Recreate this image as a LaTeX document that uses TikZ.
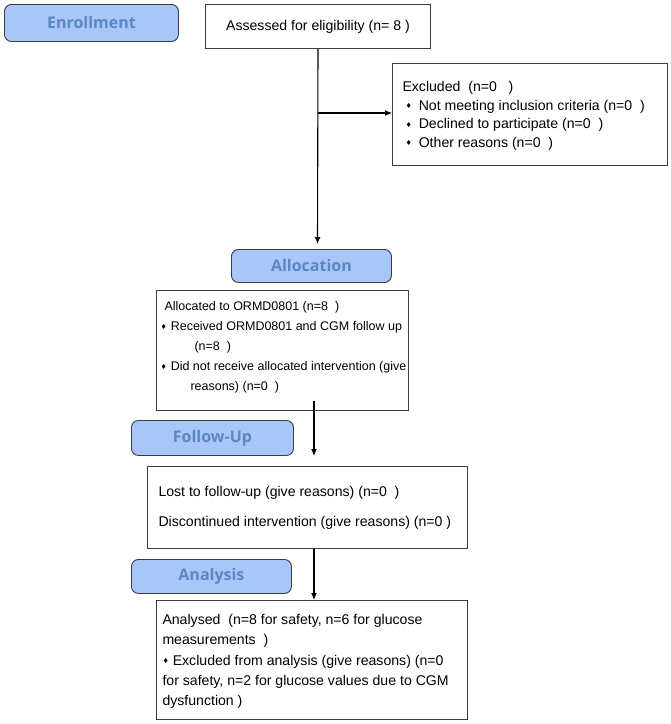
\documentclass[tikz,border=0pt]{standalone}
\usepackage{fontspec}
\setmainfont{Liberation Sans}
\newfontfamily\pillfont{Open Sans}
\newfontfamily\symfont{DejaVu Sans}
\usetikzlibrary{arrows.meta}
\definecolor{pillfill}{HTML}{A9C6F8}
\definecolor{pilltext}{HTML}{5B87C4}
\definecolor{edgegray}{HTML}{3C3C3C}
\newcommand{\dmd}{{\symfont\fontsize{7}{7}\selectfont\raisebox{1.5pt}{♦}}\hspace{4pt}}
\newcommand{\boxtext}[4]{\parbox[c][#2][t]{#1}{\rule{0pt}{#3}#4}}
\tikzset{
  pill/.style={draw=edgegray, fill=pillfill, rounded corners=7pt, line width=0.9pt,
    text=pilltext, inner sep=0pt, anchor=north west,
    font=\pillfont\bfseries\fontsize{16}{16}\selectfont},
  flowbox/.style={draw=edgegray, line width=1pt, inner ysep=0pt, anchor=north west,
    font=\fontsize{14.1}{18.6}\selectfont},
  flow/.style={->, >={Latex[length=7pt,width=6pt]}, line width=1.1pt},
}
\begin{document}
\begin{tikzpicture}[x=1pt,y=-1pt]
\useasboundingbox (0,0) rectangle (671,724);
\node[pill, minimum width=174pt, minimum height=37pt] (enroll) at (4,4) {Enrollment};
\node[flowbox, minimum width=225pt, minimum height=44pt] (assess) at (205,4)
  {Assessed for eligibility (n= 8 )};
\node[flowbox, inner xsep=10pt] (excl) at (392,63)
  {\boxtext{255pt}{102pt}{28pt}{Excluded\ \ (n=0\ \ \ )\\
   \hspace*{3pt}\dmd\hspace{3pt}Not meeting inclusion criteria (n=0\ \ )\\
   \hspace*{3pt}\dmd\hspace{3pt}Declined to participate (n=0\ \ )\\
   \hspace*{3pt}\dmd\hspace{3pt}Other reasons (n=0\ \ )}};
\node[pill, minimum width=160pt, minimum height=33pt] (alloc) at (231,249) {Allocation};
\node[flowbox, inner xsep=4pt, font=\fontsize{12.5}{20}\selectfont] (allocbox) at (156,290)
  {\boxtext{244pt}{120pt}{20pt}{\hspace*{4pt}Allocated to ORMD0801 (n=8\ \ )\\
   \mbox{\dmd Received ORMD0801 and CGM follow up}\\
   \hspace*{34pt}(n=8\ \ )\\
   \mbox{\dmd Did not receive allocated intervention (give}\\
   \hspace*{30pt}reasons) (n=0\ \ )}};
\node[pill, minimum width=162pt, minimum height=35pt] (follow) at (131,420) {Follow-Up};
\node[flowbox, inner xsep=11pt] (lost) at (147,466)
  {\boxtext{298pt}{82pt}{30pt}{Lost to follow-up (give reasons) (n=0\ \ )\\[11.4pt]
   Discontinued intervention (give reasons) (n=0 )}};
\node[pill, minimum width=160pt, minimum height=34pt] (analysis) at (131,559) {Analysis};
\node[flowbox, inner xsep=6pt, font=\fontsize{14.1}{20.3}\selectfont] (analysed) at (156,600)
  {\boxtext{299pt}{119pt}{24pt}{Analysed\ \ (n=8 for safety, n=6 for glucose\\
   measurements\ \ )\\
   \dmd Excluded from analysis (give reasons) (n=0\\
   \mbox{for safety, n=2 for glucose values due to CGM}\\
   dysfunction )}};
\coordinate (a1) at (317.5,244);
\coordinate (br) at (317.5,113);
\coordinate (f1) at (314,456);
\draw[flow] (assess.south) -- (a1);
\draw[flow] (br) -- (br -| excl.west);
\draw[flow] ([yshift=10pt]f1 |- allocbox.south) -- (f1);
\draw[flow] (lost.south -| f1) -- (analysed.north -| f1);
\end{tikzpicture}
\end{document}
